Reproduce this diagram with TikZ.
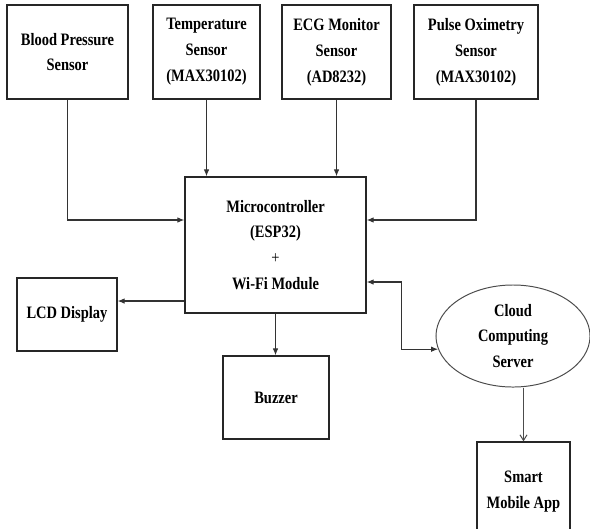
\documentclass[tikz,border=0pt]{standalone}
\usepackage{fontspec}
\setmainfont{Liberation Serif}[FakeStretch=0.83]
\usetikzlibrary{arrows.meta,shapes.geometric}

\begin{document}
\begin{tikzpicture}[x=0.025cm, y=-0.025cm,
		block/.style={draw=black!85, line width=0.9pt, align=center, inner sep=0pt, font=\fontsize{12.4}{18.4}\selectfont\bfseries},
		wire/.style={draw=black!80, line width=0.8pt, -{Latex[length=5pt,width=4pt]}}]
			%%%%% START %%%%%
			
			\clip (0, 0) rectangle (590, 528);
			
			% sensors
			\node[block, minimum width=3.025cm, minimum height=2.35cm] (bp) at (67.5, 52) {Blood Pressure\\Sensor};
			\node[block, minimum width=2.675cm, minimum height=2.35cm] (temp) at (206.5, 52) {Temperature\\Sensor\\(MAX30102)};
			\node[block, minimum width=2.725cm, minimum height=2.35cm] (ecg) at (336.5, 52) {ECG Monitor\\Sensor\\(AD8232)};
			\node[block, minimum width=3.1cm, minimum height=2.35cm] (pulse) at (476, 52) {Pulse Oximetry\\Sensor\\(MAX30102)};
			
			% controller and outputs
			\node[block, minimum width=4.525cm, minimum height=3.4cm] (micro) at (275.5, 245) {Microcontroller\\(ESP32)\\{\mdseries +}\\Wi-Fi Module};
			\node[block, minimum width=2.5cm, minimum height=1.825cm] (lcd) at (67, 314.5) {LCD Display};
			\node[block, minimum width=2.65cm, minimum height=2.075cm] (buzzer) at (276, 397.5) {Buzzer};
			\node[block, ellipse, draw=black!70, line width=0.7pt, minimum width=3.85cm, minimum height=2.55cm] (cloud) at (513, 336) {Cloud\\Computing\\Server};
			\node[block, minimum width=2.325cm, minimum height=2.4cm, text depth=0pt] (app) at (523.5, 490) {Smart\\Mobile App};
			
			\coordinate (m1) at ([yshift=-1.4cm]micro.west);
			\coordinate (m2) at ([yshift=-0.925cm]micro.east);
			
			\draw[wire] (bp.south) |- ([yshift=0.625cm]micro.west);
			\draw[wire] (temp.south) -- (temp.south |- micro.north);
			\draw[wire] (ecg.south) -- (ecg.south |- micro.north);
			\draw[wire] (pulse.south) |- ([yshift=0.625cm]micro.east);
			
			\draw[wire] (m1) -- (m1 -| lcd.east);
			\draw[wire] (micro.south) -- (micro.south |- buzzer.north);
			\draw[wire, {Latex[length=5pt,width=4pt]}-{Latex[length=5pt,width=4pt]}] (m2) -- ++(0.875cm, 0) |- (cloud.190);
			\draw[draw=black!70, line width=0.7pt, -{Straight Barb[length=4pt,width=5pt]}] (cloud.south -| app.north) -- (app.north);
			
			%%%%% END %%%%%
		\end{tikzpicture}
\end{document}
